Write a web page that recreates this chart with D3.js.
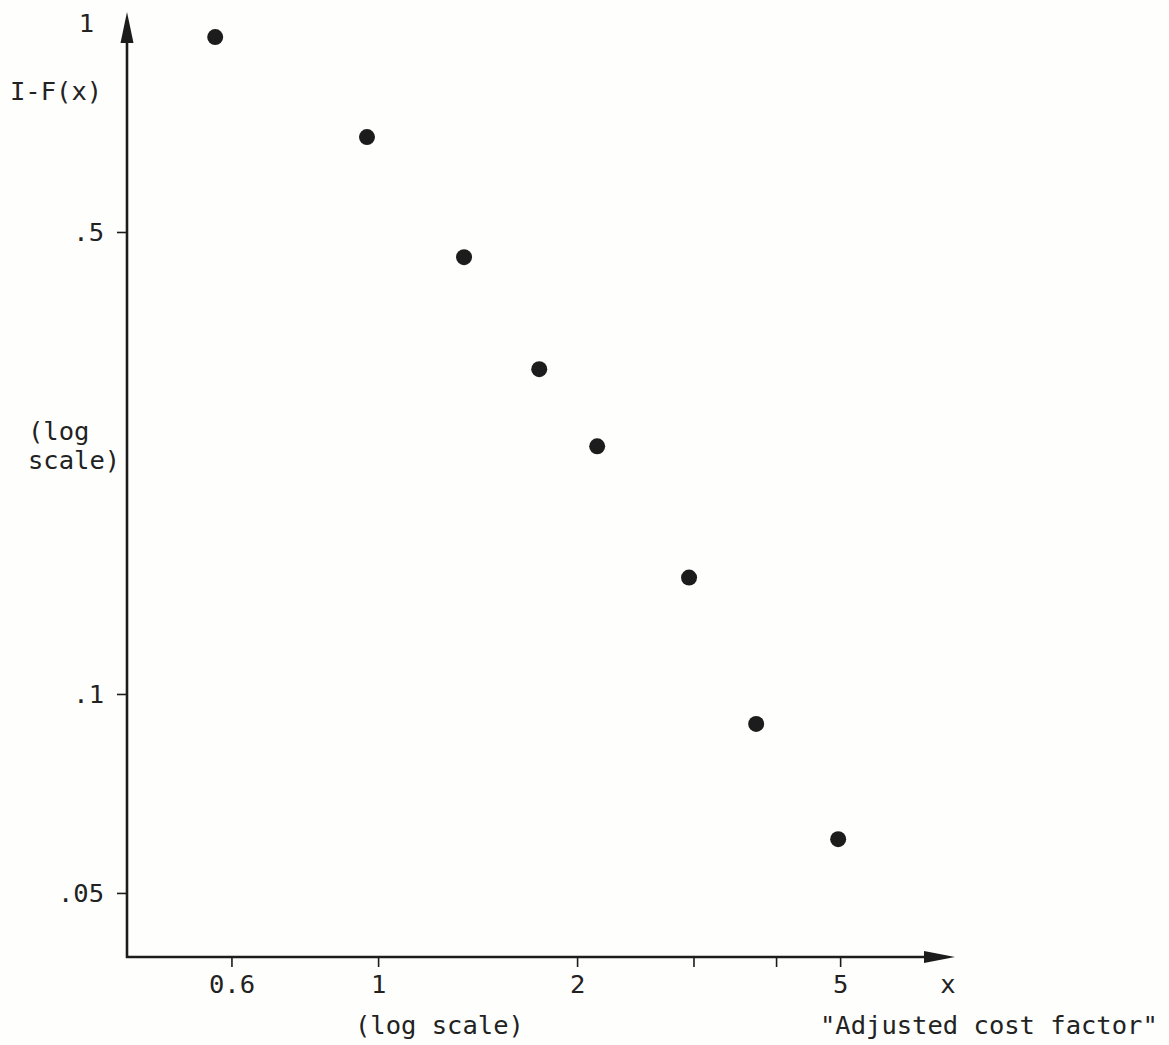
<!DOCTYPE html>
<html><head><meta charset="utf-8">
<script src="https://cdn.jsdelivr.net/npm/d3@7"></script>
<style>
html,body{margin:0;padding:0;background:#fefefc;}
svg{display:block;}
text{font-family:"DejaVu Sans Mono",monospace;fill:#222;}
</style>
</head><body><svg id="c" width="1169" height="1045"></svg>
<script>
// Data
const costFactor = [0.567, 0.962, 1.349, 1.753, 2.145, 2.954, 3.732, 4.966];
const survival   = [0.986, 0.696, 0.458, 0.310, 0.237, 0.150, 0.0901, 0.0603];
const xTickValues = [0.6, 1, 2, 3, 4, 5];
const xTickLabels = ["0.6", "1", "2", "", "", "5"];
const yTickValues = [1, 0.5, 0.1, 0.05];
const yTickLabels = ["1", ".5", ".1", ".05"];
const yAxisTitle = "I-F(x)";
const yScaleNote = ["(log", "scale)"];
const xScaleNote = "(log scale)";
const xSymbol = "x";
const xAxisTitle = "\"Adjusted cost factor\"";

const svg = d3.select("#c");
const ink = "#1c1c1c";
const fs = "25.5px";

const x = d3.scaleLog().domain([0.417, 7.46]).range([127, 955]);
const y = d3.scaleLog().domain([0.04, 1.076]).range([957, 12]);

const x0 = x.range()[0], x1 = x.range()[1];
const y0 = y.range()[0], y1 = y.range()[1];

// X axis
const gx = svg.append("g").attr("transform", `translate(0,${y0})`)
  .call(d3.axisBottom(x).tickValues(xTickValues)
    .tickFormat((d, i) => xTickLabels[i]).tickSize(10).tickSizeOuter(0).tickPadding(8));
gx.select(".domain").remove();
gx.selectAll(".tick line").attr("stroke", ink).attr("stroke-width", 1.6);
gx.selectAll(".tick text").style("font-size", fs).attr("fill", "#222");

// Y axis
const gy = svg.append("g").attr("transform", `translate(${x0},0)`)
  .call(d3.axisLeft(y).tickValues(yTickValues)
    .tickFormat((d, i) => yTickLabels[i]).tickSize(10).tickSizeOuter(0).tickPadding(13));
gy.select(".domain").remove();
gy.selectAll(".tick line").attr("stroke", ink).attr("stroke-width", 1.6)
  .attr("display", d => d === 1 ? "none" : null);
gy.selectAll(".tick text").style("font-size", fs).attr("fill", "#222")
  .attr("transform", d => d === 1 ? "translate(-10,-10)" : null);

// Axis lines with arrowheads
svg.append("line").attr("x1", x0 - 1).attr("x2", x1 - 20).attr("y1", y0).attr("y2", y0)
  .attr("stroke", ink).attr("stroke-width", 2.6);
svg.append("line").attr("x1", x0).attr("x2", x0).attr("y1", y0 + 1).attr("y2", y1 + 20)
  .attr("stroke", ink).attr("stroke-width", 2.6);
svg.append("polygon")
  .attr("points", `${x1},${y0} ${x1 - 31},${y0 - 6} ${x1 - 31},${y0 + 6}`)
  .attr("fill", ink);
svg.append("polygon")
  .attr("points", `${x0},${y1} ${x0 - 6.5},${y1 + 31} ${x0 + 6.5},${y1 + 31}`)
  .attr("fill", ink);

// Points
svg.append("g").selectAll("circle")
  .data(costFactor.map((c, i) => ({c, s: survival[i]})))
  .join("circle")
  .attr("cx", d => x(d.c)).attr("cy", d => y(d.s)).attr("r", 8)
  .attr("fill", ink);

// Labels
svg.append("text").attr("x", 10).attr("y", 100).style("font-size", fs).text(yAxisTitle);
svg.append("text").attr("x", 28).attr("y", 440).style("font-size", fs).text(yScaleNote[0]);
svg.append("text").attr("x", 28).attr("y", 469).style("font-size", fs).text(yScaleNote[1]);
svg.append("text").attr("x", 355).attr("y", 1034).style("font-size", fs).text(xScaleNote);
svg.append("text").attr("x", 948).attr("y", 993).attr("text-anchor", "middle").style("font-size", fs).text(xSymbol);
svg.append("text").attr("x", 820).attr("y", 1034).style("font-size", fs).text(xAxisTitle);
</script>
</body></html>
